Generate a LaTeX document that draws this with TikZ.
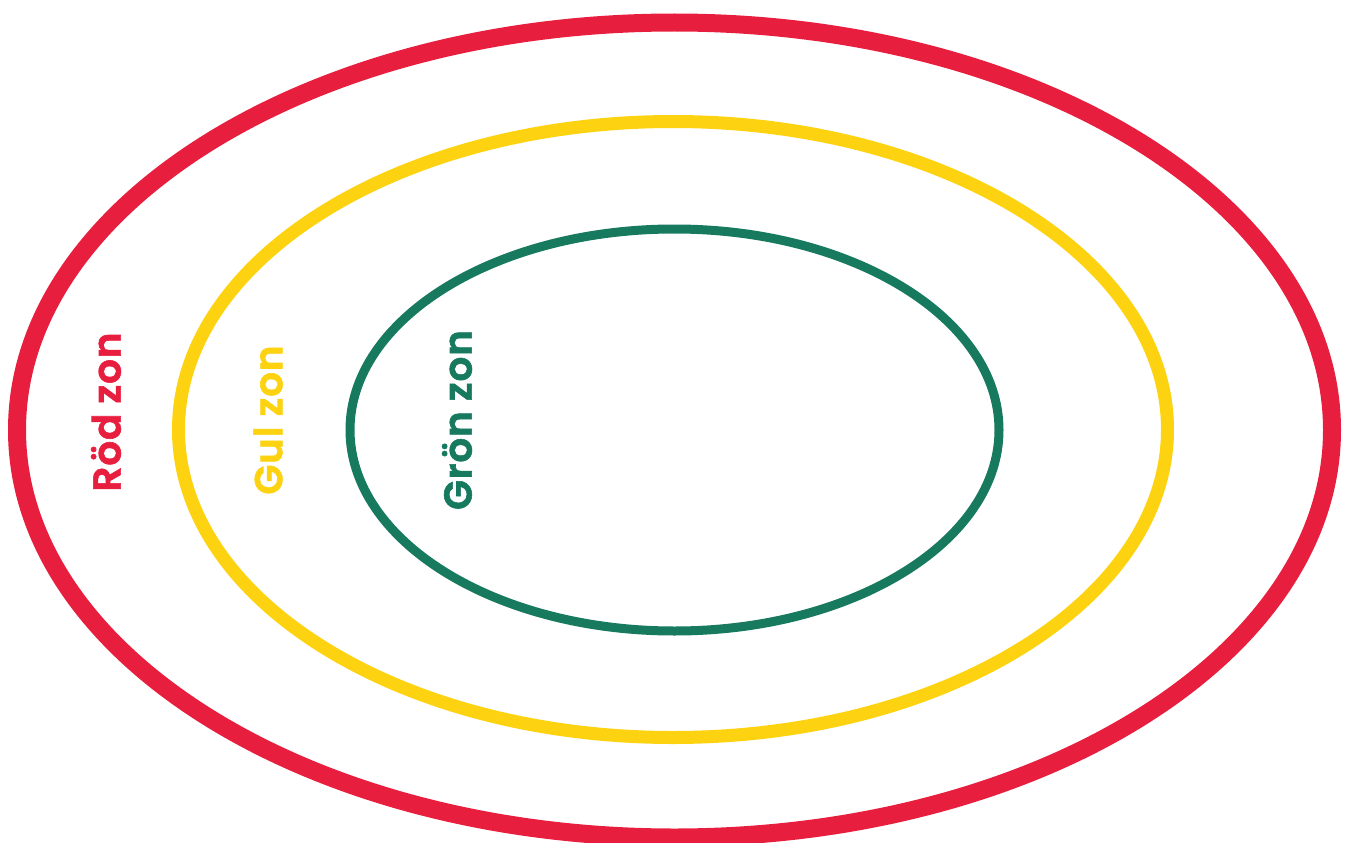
\documentclass[tikz,border=0pt]{standalone}
\usepackage{fontspec}
\newfontfamily\zonefont{Poppins SemiBold}[LetterSpace=2,FakeBold=1.5]
\definecolor{zred}{HTML}{E81E3F}
\definecolor{zyellow}{HTML}{FDD311}
\definecolor{zgreen}{HTML}{17795E}
\begin{document}
\begin{tikzpicture}[x=1pt,y=-1pt,
  zonelabel/.style={rotate=90,font=\zonefont\fontsize{39}{42}\selectfont,inner sep=0pt}]
\useasboundingbox (0,0) rectangle (1350,843);
\draw[zred,line width=18pt] (674.5,430) ellipse [x radius=657.5,y radius=407.5];
\draw[zyellow,line width=13pt] (673,429.5) ellipse [x radius=494.5,y radius=308];
\draw[zgreen,line width=9pt] (674.5,430) ellipse [x radius=324.5,y radius=201];
\node[zonelabel,text=zred] (rod) at (106,412) {Röd zon};
\node[zonelabel,text=zyellow] (gul) at (268,420) {Gul zon};
\node[zonelabel,text=zgreen] (gron) at (457,420) {Grön zon};
\end{tikzpicture}
\end{document}
